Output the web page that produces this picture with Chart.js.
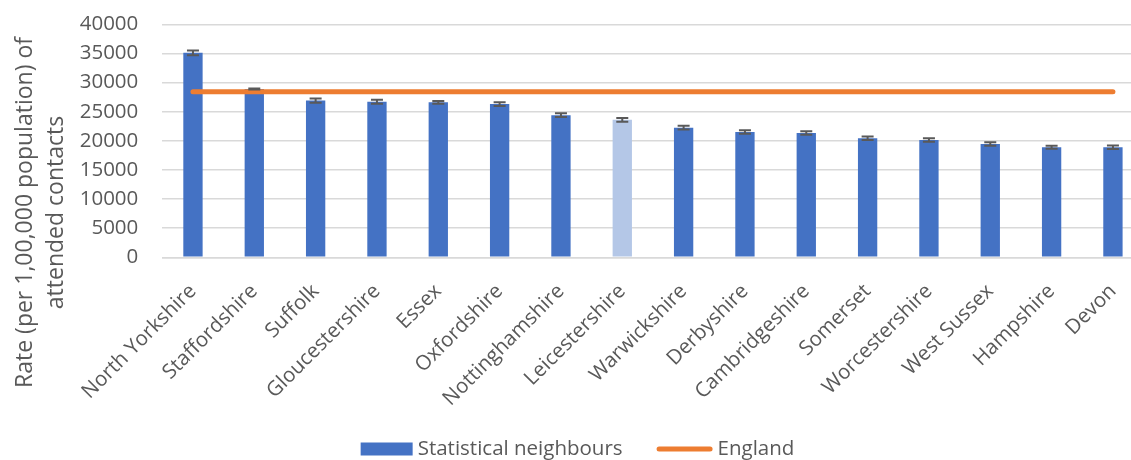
<!DOCTYPE html>
<html>
<head>
<meta charset="utf-8">
<script src="https://cdn.jsdelivr.net/npm/chart.js@4/dist/chart.umd.min.js"></script>
<style>
  html, body { margin: 0; padding: 0; background: #fff; overflow: hidden; }
  #wrap { width: 1131px; height: 460px; overflow: hidden; position: relative; }
  #c { display: block; }
</style>
</head>
<body>
<div id="wrap"><canvas id="c" width="1145" height="460"></canvas></div>
<script>
// Attended contacts per 1,00,000 population, statistical neighbours vs England
const categories = [
  'North Yorkshire', 'Staffordshire', 'Suffolk', 'Gloucestershire', 'Essex',
  'Oxfordshire', 'Nottinghamshire', 'Leicestershire', 'Warwickshire', 'Derbyshire',
  'Cambridgeshire', 'Somerset', 'Worcestershire', 'West Sussex', 'Hampshire', 'Devon'
];
const rates = [
  35100, 28900, 26900, 26700, 26600,
  26300, 24400, 23600, 22250, 21500,
  21350, 20450, 20150, 19450, 18900, 18900
];
// half-width of the confidence interval for each area
const errors = [
  400, 80, 370, 330, 250,
  330, 330, 330, 330, 300,
  300, 300, 300, 300, 250, 300
];
const englandRate = 28400;
const highlightArea = 'Leicestershire';
const yMin = 0, yMax = 40000, yStep = 5000;
const seriesNames = ['Statistical neighbours', 'England'];
const axisTitleLines = ['Rate (per 1,00,000 population) of', 'attended contacts'];

const FONT = '"Open Sans", sans-serif';
const FONT_SIZE = 20.5;
const TITLE_SIZE = 23;
const TEXT = '#595959';
const BAR = '#4472C4';
const BAR_LIGHT = '#B4C7E7';
const LINE = '#ED7D31';
const GRID = '#D9D9D9';

// confidence-interval whiskers on each bar
const errorBars = {
  id: 'errorBars',
  afterDatasetsDraw(chart) {
    const meta = chart.getDatasetMeta(1);
    const y = chart.scales.y;
    const ctx = chart.ctx;
    ctx.save();
    ctx.strokeStyle = '#595959';
    ctx.lineWidth = 2;
    meta.data.forEach((bar, i) => {
      const top = y.getPixelForValue(rates[i] + errors[i]);
      const bot = y.getPixelForValue(rates[i] - errors[i]);
      const x = bar.x, hw = 6;
      ctx.beginPath();
      ctx.moveTo(x, top); ctx.lineTo(x, bot);
      ctx.moveTo(x - hw, top); ctx.lineTo(x + hw, top);
      ctx.moveTo(x - hw, bot); ctx.lineTo(x + hw, bot);
      ctx.stroke();
    });
    ctx.restore();
  }
};

// two-line rotated title for the value axis
const axisTitle = {
  id: 'axisTitle',
  afterDraw(chart) {
    const ctx = chart.ctx;
    ctx.save();
    ctx.translate(0, 212.5);
    ctx.rotate(-Math.PI / 2);
    ctx.font = TITLE_SIZE + 'px ' + FONT;
    ctx.fillStyle = TEXT;
    ctx.textAlign = 'center';
    ctx.textBaseline = 'alphabetic';
    ctx.fillText(axisTitleLines[0], 0, 32);
    ctx.fillText(axisTitleLines[1], 0, 63);
    ctx.restore();
  }
};

// legend row under the category labels
const legendRow = {
  id: 'legendRow',
  afterDraw(chart) {
    const ctx = chart.ctx;
    ctx.save();
    ctx.font = FONT_SIZE + 'px ' + FONT;
    const w1 = ctx.measureText(seriesNames[0]).width;
    const w2 = ctx.measureText(seriesNames[1]).width;
    const boxW = 52, gap = 5, itemGap = 34, lineW = 56;
    const total = boxW + gap + w1 + itemGap + lineW + gap + w2;
    let x = 577.5 - total / 2;
    const cy = 449;
    ctx.fillStyle = BAR;
    ctx.fillRect(x, cy - 6.5, boxW, 13);
    x += boxW + gap;
    ctx.fillStyle = TEXT;
    ctx.textBaseline = 'middle';
    ctx.textAlign = 'left';
    ctx.fillText(seriesNames[0], x, cy);
    x += w1 + itemGap;
    ctx.strokeStyle = LINE;
    ctx.lineWidth = 5;
    ctx.lineCap = 'round';
    ctx.beginPath();
    ctx.moveTo(x + 2.5, cy);
    ctx.lineTo(x + lineW - 2.5, cy);
    ctx.stroke();
    x += lineW + gap;
    ctx.fillText(seriesNames[1], x, cy);
    ctx.restore();
  }
};

new Chart(document.getElementById('c'), {
  type: 'bar',
  data: {
    labels: categories,
    datasets: [
      {
        type: 'line',
        label: seriesNames[1],
        data: categories.map(() => englandRate),
        borderColor: LINE,
        backgroundColor: LINE,
        borderWidth: 5,
        borderCapStyle: 'round',
        pointRadius: 0,
        tension: 0
      },
      {
        type: 'bar',
        label: seriesNames[0],
        data: rates,
        backgroundColor: categories.map(c => c === highlightArea ? BAR_LIGHT : BAR),
        borderWidth: 0,
        categoryPercentage: 1,
        barPercentage: 0.315
      }
    ]
  },
  options: {
    responsive: false,
    animation: false,
    devicePixelRatio: 1,
    layout: { padding: { top: 24.3, right: 1.4, bottom: 0, left: 0 } },
    plugins: {
      legend: { display: false },
      tooltip: { enabled: false }
    },
    scales: {
      x: {
        grid: { display: false },
        border: { display: true, color: GRID, width: 1.5 },
        ticks: {
          autoSkip: false,
          maxRotation: 45,
          minRotation: 45,
          color: TEXT,
          padding: 14,
          font: { family: FONT, size: FONT_SIZE }
        },
        afterFit(scale) { scale.height = 460 - 257.3; }
      },
      y: {
        min: yMin,
        max: yMax,
        grid: { color: GRID, lineWidth: 1.5, drawTicks: true, tickLength: 24, tickColor: 'rgba(0,0,0,0)' },
        border: { display: false },
        ticks: {
          stepSize: yStep,
          color: TEXT,
          padding: 0,
          font: { family: FONT, size: FONT_SIZE },
          callback: v => String(v)
        },
        afterFit(scale) { scale.width = 162.3; }
      }
    }
  },
  plugins: [errorBars, axisTitle, legendRow]
});
</script>
</body>
</html>
